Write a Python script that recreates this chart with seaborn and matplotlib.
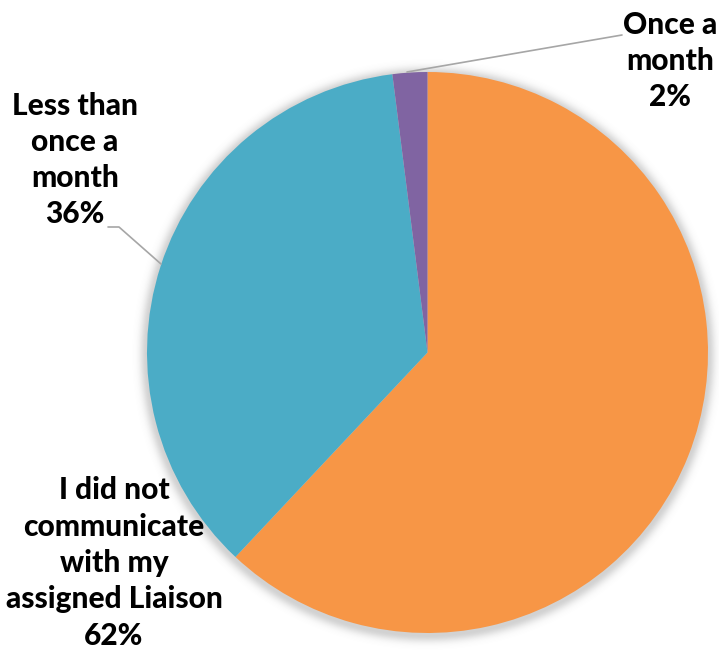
import numpy as np
import matplotlib
matplotlib.use("Agg")
import matplotlib.pyplot as plt
import seaborn as sns

# Survey answers: how often respondents communicated with their assigned Liaison
categories = [
    "I did not\ncommunicate\nwith my\nassigned Liaison",
    "Less than\nonce a\nmonth",
    "Once a\nmonth",
]
shares = [62, 36, 2]
slice_colors = ["#F79646", "#4BACC6", "#8064A2"]

sns.set_theme(style="white")
plt.rcParams["font.family"] = ["Lato", "DejaVu Sans"]

W, H = 719, 655
fig = plt.figure(figsize=(W / 100, H / 100), dpi=100)
ax = fig.add_axes([0, 0, 1, 1])
ax.set_xlim(0, W)
ax.set_ylim(0, H)
ax.set_aspect("equal")
ax.axis("off")

cx, cy, r = 427.5, H - 352.5, 280.5

# soft drop shadow around the pie
yy, xx = np.mgrid[0:H, 0:W]
d = np.hypot(xx + 0.5 - cx, (H - yy - 0.5) - (cy - 2))
shade = np.clip((d - r) / 9.0, 0, None)
alpha = 0.32 * np.exp(-shade ** 2 * 1.6)
alpha[d < r] = 0.32
rgba = np.zeros((H, W, 4))
rgba[..., :3] = 0.45
rgba[..., 3] = alpha
ax.imshow(rgba, extent=(0, W, 0, H), origin="upper", zorder=0)

ax.pie(
    shares,
    colors=slice_colors,
    startangle=90,
    counterclock=False,
    center=(cx, cy),
    radius=r,
    wedgeprops=dict(linewidth=0, antialiased=True),
    frame=True,
)
ax.set_xlim(0, W)
ax.set_ylim(0, H)
ax.axis("off")

label_style = dict(fontsize=21.5, fontweight="black", color="black",
                   ha="center", va="center", linespacing=1.36)
line_color = "#A6A6A6"

# Once a month
ax.text(670, H - 61, f"{categories[2]}\n{shares[2]}%", **label_style)
ax.plot([407, 622], [H - 72, H - 35], color=line_color, lw=1.2, zorder=3)

# Less than once a month
ax.text(75, H - 160, f"{categories[1]}\n{shares[1]}%", **label_style)
ax.plot([108, 119, 161], [H - 227, H - 227, H - 264], color=line_color, lw=1.2, zorder=3)

# Did not communicate
ax.text(114, H - 563, f"{categories[0]}\n{shares[0]}%", **label_style)

fig.savefig("out.png", dpi=100)
